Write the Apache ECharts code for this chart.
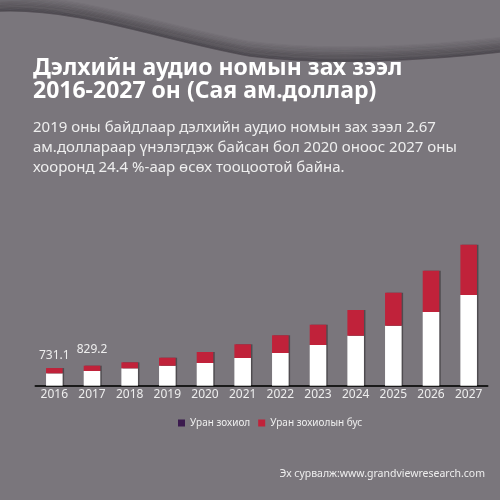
<!DOCTYPE html>
<head>
    <meta charset="utf-8">
    <title>Audio book market</title>
    <style>
        html, body {
            width: 100%;
            height: 100%;
            margin: 0;
            background: #7a767c;
        }
        #main {
            width: 500px;
            height: 500px;
        }
    </style>
</head>
<body>
<div id="main"></div>
<script src="https://cdn.jsdelivr.net/npm/echarts@6/dist/echarts.min.js"></script>
<script type="text/javascript">
  var years = ['2016', '2017', '2018', '2019', '2020', '2021', '2022', '2023', '2024', '2025', '2026', '2027'];
  var fiction = [513, 609, 720, 828, 940, 1147, 1354, 1685, 2070, 2484, 3051, 3755];
  var nonFiction = [218, 220, 248, 331, 455, 567, 733, 840, 1064, 1366, 1710, 2082];
  var totalLabels = ['731.1', '829.2'];

  var myChart = echarts.init(document.getElementById('main'));

  // shadow band under the wave at the top
  var wave = [];
  for (var k = 0; k < 12; k++) {
    var d = k * 1.3;
    var stroke = 'rgba(35,32,38,' + (0.45 * (1 - k / 12)).toFixed(3) + ')';
    wave.push({
      type: 'bezierCurve',
      silent: true,
      shape: {x1: 0, y1: 11 - d, cpx1: 80, cpy1: 8 - d, cpx2: 160, cpy2: 40 - d, x2: 250, y2: 56 - d},
      style: {fill: null, stroke: stroke, lineWidth: 1.5}
    });
    wave.push({
      type: 'bezierCurve',
      silent: true,
      shape: {x1: 250, y1: 56 - d, cpx1: 330, cpy1: 66 - d, cpx2: 430, cpy2: 60 - d, x2: 500, y2: 52 - d},
      style: {fill: null, stroke: stroke, lineWidth: 1.5}
    });
  }

  var redData = nonFiction.map(function (v, i) {
    if (i < totalLabels.length) {
      return {
        value: v,
        label: {
          show: true,
          position: 'top',
          distance: i === 0 ? 6 : 10,
          formatter: totalLabels[i]
        }
      };
    }
    return v;
  });

  var option = {
    backgroundColor: '#7a767c',
    textStyle: {fontFamily: 'Noto Sans'},
    graphic: wave.concat([
      {
        type: 'text',
        left: 33,
        top: 57,
        style: {
          text: 'Дэлхийн аудио номын зах зээл\n2016-2027 он (Сая ам.доллар)',
          fill: '#ffffff',
          font: 'bold 23px "Noto Sans"',
          lineHeight: 23
        }
      },
      {
        type: 'text',
        left: 33,
        top: 118,
        style: {
          text: '2019 оны байдлаар дэлхийн аудио номын зах зээл 2.67\nам.доллараар үнэлэгдэж байсан бол 2020 оноос 2027 оны\nхооронд 24.4 %-аар өсөх тооцоотой байна.',
          fill: '#eeeeee',
          font: '15px "Noto Sans"',
          lineHeight: 20
        }
      },
      {
        type: 'text',
        right: 15,
        top: 469,
        style: {
          text: 'Эх сурвалж:www.grandviewresearch.com',
          fill: '#eeeeee',
          font: '10.5px "Noto Sans"'
        }
      }
    ]),
    legend: {
      top: 413,
      left: 173,
      itemWidth: 7,
      itemHeight: 7,
      itemGap: 8,
      icon: 'rect',
      textStyle: {color: '#eeeeee', fontSize: 10},
      data: [
        {name: 'Уран зохиол', itemStyle: {color: '#3b1a4e'}},
        {name: 'Уран зохиолын бус', itemStyle: {color: '#c0223a'}}
      ]
    },
    grid: {
      left: 35.5,
      right: 12.5,
      top: 192.5,
      bottom: 114.3
    },
    xAxis: {
      type: 'category',
      data: years,
      axisLine: {lineStyle: {color: '#1a1a1a', width: 2}},
      axisTick: {show: false},
      axisLabel: {color: '#eeeeee', fontSize: 12, margin: 3}
    },
    yAxis: {
      type: 'value',
      min: 0,
      max: 8000,
      show: false,
      splitLine: {show: false}
    },
    series: [
      {
        name: 'Уран зохиол',
        type: 'bar',
        stack: 'total',
        barWidth: '44%',
        data: fiction,
        itemStyle: {
          color: '#ffffff',
          shadowColor: 'rgba(0,0,0,0.35)',
          shadowOffsetX: 1.5
        }
      },
      {
        name: 'Уран зохиолын бус',
        type: 'bar',
        stack: 'total',
        data: redData,
        label: {color: '#eeeeee', fontSize: 12},
        itemStyle: {
          color: '#c0223a',
          shadowColor: 'rgba(0,0,0,0.35)',
          shadowOffsetX: 1.5
        }
      }
    ]
  };
  myChart.setOption(option);
</script>
</body>
